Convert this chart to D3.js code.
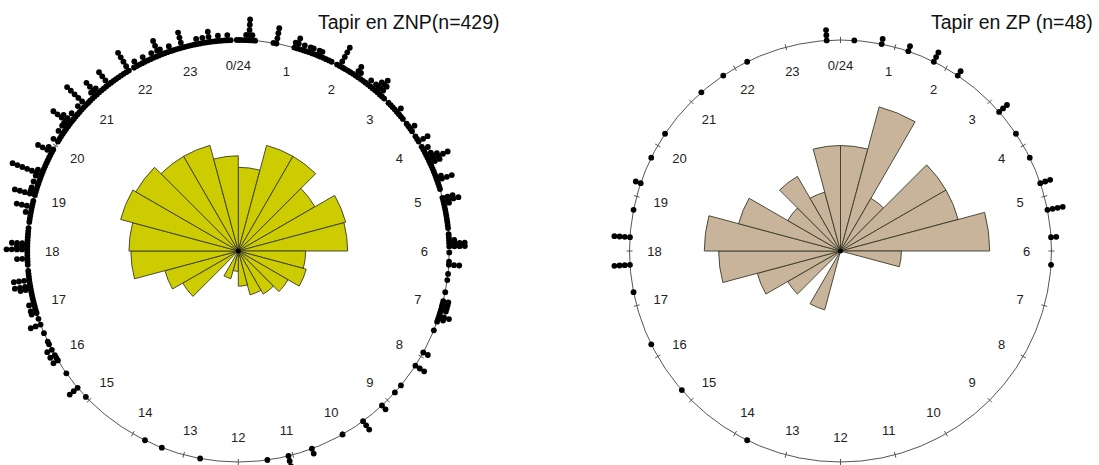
<!DOCTYPE html>
<html><head><meta charset="utf-8">
<script src="https://cdn.jsdelivr.net/npm/d3@7"></script>
<style>body{margin:0;background:#fff;} svg{display:block;} text{font-family:Arial,"Liberation Sans",sans-serif;}</style>
</head><body>
<svg id="chart" width="1099" height="465"></svg>
<script>
// ---------------- data ----------------
const hourLabels = ["0/24","1","2","3","4","5","6","7","8","9","10","11","12","13","14","15","16","17","18","19","20","21","22","23"];

// rose diagram: number of records per hour (24 bins)
const roseZNP = [17,29,29,19,30,29,11,12,8,6,5,3,1,2,0,10,14,28,29,36,34,29,29,22];
const roseZP  = [3,6,1,4,4,6,1,0,0,0,0,0,0,1,0,1,2,4,5,3,1,2,1,3];

// stacked points, ZNP: per hour, counts in 18 sub-bins (1/18 h each)
const dotsZNP = [
  [1,1,2,5,2,1,0,0,0,0,0,1,4,0,0,0,0,0],
  [2,3,1,2,1,2,2,1,2,2,1,1,1,1,0,1,5,1],
  [1,1,1,1,3,2,1,1,1,2,1,2,3,4,3,1,1,0],
  [1,1,1,1,2,1,1,1,0,1,1,2,1,0,1,1,3,0],
  [1,2,1,2,3,5,3,1,1,1,1,2,4,1,1,1,0,0],
  [3,4,2,1,1,1,1,1,1,1,1,0,1,1,2,4,4,0],
  [1,0,0,1,3,0,0,1,0,1,0,0,0,1,0,0,2,2],
  [2,2,1,3,2,1,0,0,1,0,0,0,0,0,0,0,2,0],
  [0,0,0,3,0,0,0,0,0,0,0,1,0,0,1,0,0,0],
  [0,0,2,0,0,0,0,0,0,0,3,0,0,0,0,0,0,0],
  [1,0,0,0,0,0,0,0,0,0,0,2,0,0,0,0,0,0],
  [0,3,0,0,0,0,0,0,1,0,0,0,0,0,0,0,0,0],
  [0,0,0,0,0,0,0,0,0,0,0,0,1,0,0,0,0,0],
  [0,0,0,0,0,0,0,1,0,0,0,0,0,1,0,0,0,0],
  [0,0,0,0,0,0,0,0,0,0,0,0,0,0,0,0,0,0],
  [0,1,0,0,0,3,0,0,0,0,0,1,0,0,0,0,2,1],
  [2,0,2,0,1,1,0,0,1,0,0,3,0,1,0,2,2,1],
  [2,1,1,1,1,3,4,1,4,1,1,1,0,1,1,3,1,1],
  [5,3,4,1,1,1,1,1,0,1,1,1,2,1,4,1,1,0],
  [5,2,2,1,2,1,2,7,2,1,1,1,1,1,1,4,2,0],
  [0,2,1,1,2,1,2,2,5,3,1,2,1,1,2,1,6,1],
  [1,1,2,4,2,1,1,1,4,1,1,1,1,1,1,1,5,0],
  [1,2,1,1,2,1,1,2,1,4,2,1,1,2,1,1,1,4],
  [1,1,1,1,2,1,2,1,3,1,1,2,1,1,2,1,0,1]
];
// stacked points, ZP: [time in hours, number stacked]
const dotsZP = [[23.75,3],[0.25,1],[0.75,2],[1.25,2],[1.75,3],[2.25,2],[3.25,3],[3.75,1],[4.25,1],[4.75,3],[5.25,4],[5.75,2],[6.25,1],[13.75,1],[15.25,1],[16.25,1],[17.25,1],[17.75,4],[18.25,4],[18.75,1],[19.25,2],[19.75,1],[20.25,1],[21.25,1],[21.75,1],[22.25,1]];

const titles = ["Tapir en ZNP(n=429)", "Tapir en ZP (n=48)"];

// ---------------- drawing ----------------
const svg = d3.select("#chart");
const R = 211;

function expandZNP(arr){
  const out = [];
  arr.forEach((row,h)=>row.forEach((k,i)=>{ if(k>0) out.push([h+(i+0.5)/18,k]); }));
  return out;
}

function drawPanel(cfg){
  const g = svg.append("g").attr("transform",`translate(${cfg.cx},${cfg.cy})`);
  const ang = d3.scaleLinear().domain([0,24]).range([0,2*Math.PI]);
  const n = d3.sum(cfg.rose);
  const rScale = d3.scaleSqrt().domain([0,n]).range([0,2*R]);

  // rose wedges
  const arc = d3.arc().innerRadius(0);
  g.selectAll("path.w").data(cfg.rose).join("path").attr("class","w")
    .attr("d",(d,i)=>arc({outerRadius:rScale(d),startAngle:ang(i),endAngle:ang(i+1)}))
    .attr("fill",cfg.fill).attr("stroke","#3a3a2a").attr("stroke-width",0.9)
    .attr("stroke-linejoin","miter");
  g.append("circle").attr("r",2.5).attr("fill","#000");

  // circle
  g.append("circle").attr("r",R).attr("fill","none").attr("stroke","#555").attr("stroke-width",1);
  // ticks
  g.selectAll("line.t").data(d3.range(24)).join("line").attr("class","t")
    .attr("x1",d=>(R-3)*Math.sin(ang(d))).attr("y1",d=>-(R-3)*Math.cos(ang(d)))
    .attr("x2",d=>(R+3)*Math.sin(ang(d))).attr("y2",d=>-(R+3)*Math.cos(ang(d)))
    .attr("stroke","#555").attr("stroke-width",1);
  // hour labels
  g.selectAll("text.h").data(hourLabels).join("text").attr("class","h")
    .attr("x",(d,i)=>186*Math.sin(ang(i))).attr("y",(d,i)=>-186*Math.cos(ang(i)))
    .attr("text-anchor","middle").attr("dominant-baseline","central")
    .attr("font-size",13).attr("fill","#222").text(d=>d);

  // stacked dots
  const pts = [];
  cfg.dots.forEach(([t,k])=>{ for(let j=0;j<k;j++) pts.push({a:ang(t), r:R+j*5.2}); });
  g.selectAll("circle.d").data(pts).join("circle").attr("class","d")
    .attr("cx",d=>d.r*Math.sin(d.a)).attr("cy",d=>-d.r*Math.cos(d.a))
    .attr("r",2.9).attr("fill","#000");

  svg.append("text").attr("x",cfg.tx).attr("y",29).attr("font-size",19.5).attr("fill","#111").text(cfg.title);
}

drawPanel({cx:238.3, cy:251, rose:roseZNP, dots:expandZNP(dotsZNP), fill:"#cccc00", title:titles[0], tx:318});
drawPanel({cx:840.5, cy:251, rose:roseZP, dots:dotsZP, fill:"#c8b49b", title:titles[1], tx:931});
</script>
</body></html>
